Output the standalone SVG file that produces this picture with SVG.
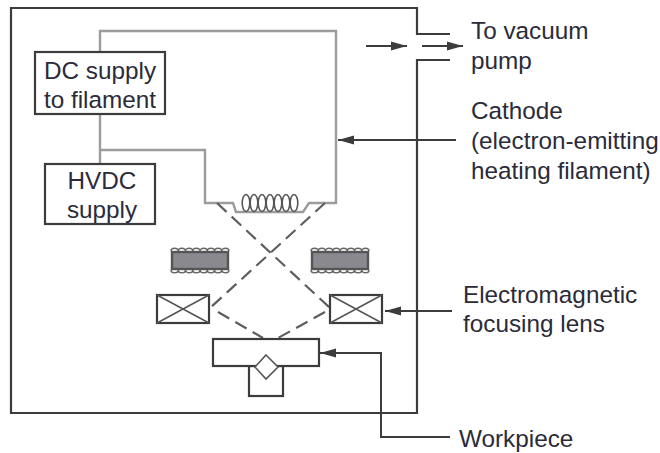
<svg xmlns="http://www.w3.org/2000/svg" width="660" height="453" viewBox="0 0 660 453">
<style>
text{font-family:"Liberation Sans",Arial,sans-serif;font-size:24.3px;fill:#2b2b3a}
.m{text-anchor:middle}
.k{fill:none;stroke:#3c3c3c;stroke-width:2.2}
.b{fill:#fff;stroke:#3c3c3c;stroke-width:2.2}
.g{fill:none;stroke:#9c9c9c;stroke-width:2.4}
.d{fill:none;stroke:#5e5e5e;stroke-width:2.2;stroke-dasharray:13 7}
.t{fill:none;stroke:#555;stroke-width:1.5}
.bar{fill:#8a8a8e;stroke:#555;stroke-width:2.4}
.ar{fill:none;stroke:#3c3c3c;stroke-width:2;marker-end:url(#a)}
.coil{fill:none;stroke:#555;stroke-width:1.6}
</style>
<defs>
<marker id="a" markerUnits="userSpaceOnUse" markerWidth="16" markerHeight="10" refX="16" refY="5" orient="auto"><path d="M0 0.5L16 5L0 9.5Z" fill="#3c3c3c"/></marker>
<path id="sc" d="M0 0a3.6 2.8 0 0 1 7.25 0a3.6 2.8 0 0 1 7.25 0a3.6 2.8 0 0 1 7.25 0a3.6 2.8 0 0 1 7.25 0a3.6 2.8 0 0 1 7.25 0a3.6 2.8 0 0 1 7.25 0a3.6 2.8 0 0 1 7.25 0a3.6 2.8 0 0 1 7.25 0" fill="none" stroke="#666" stroke-width="1.5"/>
<ellipse id="lp" cx="0" cy="0" rx="3.8" ry="8.5" class="coil"/>
</defs>
<g id="connectors">
<path class="k" d="M450 34H417V8H11V413H417V60H450"/>
<path class="g" d="M100 52V31H336V203H309L303 212H236L233 203H205V150H100M100 114V164"/>
<path class="d" d="M217 203L330 308M325 203L210 308M218 312L263 338M325 312L278 338"/>
<path class="ar" d="M366 46H407"/>
<path class="ar" d="M422 46H463"/>
<path class="ar" d="M456 140H338"/>
<path class="ar" d="M452 311H385"/>
<path class="ar" d="M450 437H381V353H320"/>
</g>
<g id="filament"><use href="#lp" x="246" y="203"/><use href="#lp" x="254" y="203"/><use href="#lp" x="262" y="203"/><use href="#lp" x="270" y="203"/><use href="#lp" x="278" y="203"/><use href="#lp" x="286" y="203"/><use href="#lp" x="294" y="203"/></g>
<g id="coil-left"><use href="#sc" x="171" y="251"/><use href="#sc" transform="translate(171 270) scale(1 -1)"/><rect class="bar" x="172" y="252" width="56" height="17"/></g>
<g id="coil-right"><use href="#sc" x="311" y="251"/><use href="#sc" transform="translate(311 270) scale(1 -1)"/><rect class="bar" x="312" y="252" width="56" height="17"/></g>
<g id="lens-left"><rect class="b" x="157" y="295" width="52" height="28"/><path class="t" d="M157 295L209 323M209 295L157 323"/></g>
<g id="lens-right"><rect class="b" x="330" y="295" width="52" height="28"/><path class="t" d="M330 295L382 323M382 295L330 323"/></g>
<g id="workpiece"><rect class="b" x="249" y="366" width="34" height="30"/><rect class="b" x="213" y="339" width="106" height="27"/><path d="M266 355L278 367L266 379L255 367Z" fill="#fff" stroke="#555" stroke-width="1.6"/></g>
<g id="dc-supply"><rect class="b" x="35" y="52" width="130" height="62"/><text class="m" x="100" y="79">DC supply</text><text class="m" x="100" y="108">to filament</text></g>
<g id="hvdc-supply"><rect class="b" x="45" y="164" width="110" height="60"/><text class="m" x="102" y="189">HVDC</text><text class="m" x="102" y="218">supply</text></g>
<g id="labels">
<text x="471" y="39">To vacuum</text><text x="471" y="69">pump</text>
<text x="471" y="119">Cathode</text><text x="471" y="149">(electron-emitting</text><text x="471" y="179">heating filament)</text>
<text x="463" y="303">Electromagnetic</text><text x="463" y="332">focusing lens</text>
<text x="459" y="447">Workpiece</text>
</g>
</svg>
